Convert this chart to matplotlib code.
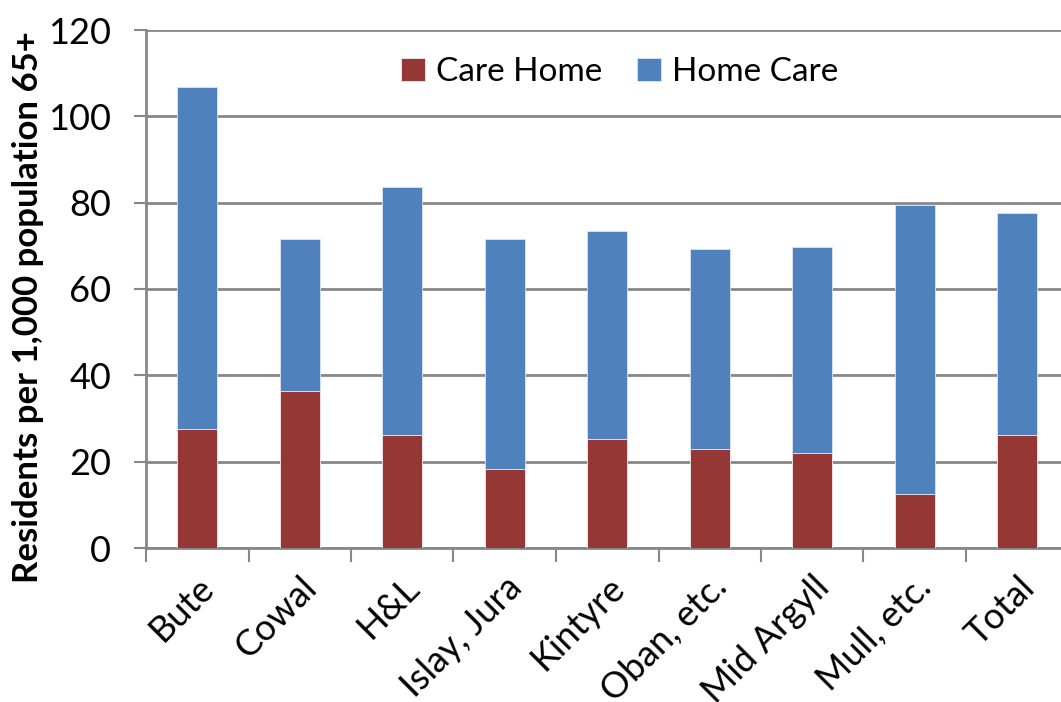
import matplotlib
matplotlib.use("Agg")
import matplotlib.pyplot as plt
import numpy as np

areas = ["Bute", "Cowal", "H&L", "Islay, Jura", "Kintyre", "Oban, etc.",
         "Mid Argyll", "Mull, etc.", "Total"]
care_home = [27.6, 36.4, 26.2, 18.3, 25.2, 22.9, 22.0, 12.5, 26.2]
total_rate = [106.8, 71.6, 83.6, 71.6, 73.4, 69.3, 69.7, 79.5, 77.6]
home_care = [t - c for t, c in zip(total_rate, care_home)]
y_ticks = [0, 20, 40, 60, 80, 100, 120]

plt.rcParams['font.family'] = ['Lato', 'DejaVu Sans']

red = "#953735"
blue = "#4F81BD"
grey = "#878787"

fig = plt.figure(figsize=(10.61, 7.02), dpi=100)
ax = fig.add_axes([146 / 1061, 1 - 548 / 702, (1061 - 146) / 1061, 518 / 702])

x = np.arange(len(areas))
w = 0.39
ax.bar(x, care_home, width=w, color=red, edgecolor="#f0f0f0", linewidth=0.6,
       label="Care Home", zorder=3)
ax.bar(x, home_care, width=w, bottom=care_home, color=blue, edgecolor="#dce6f2",
       linewidth=0.6, label="Home Care", zorder=3)

ax.set_ylim(0, 120)
ax.set_xlim(-0.5, -0.5 + (1061 - 146) / 102.5)
ax.set_yticks(y_ticks)
ax.yaxis.grid(True, color=grey, linewidth=2, zorder=0)
ax.set_axisbelow(True)

# category boundary ticks on the x axis
ax.set_xticks(x)
ax.set_xticklabels(areas, rotation=45, ha="right", rotation_mode="anchor",
                   fontsize=26)
ax.tick_params(axis="x", length=0, pad=16)
ax.set_xticks(np.arange(len(areas)) - 0.5, minor=True)
ax.tick_params(axis="x", which="minor", length=10, width=1.5, color=grey)
ax.tick_params(axis="y", labelsize=26, length=9, width=1.5, color=grey, pad=16)

for s in ["top", "right"]:
    ax.spines[s].set_visible(False)
for s in ["left", "bottom"]:
    ax.spines[s].set_color(grey)
    ax.spines[s].set_linewidth(2)

ax.set_ylabel("Residents per 1,000 population 65+", fontsize=25,
              fontweight="bold")
ax.yaxis.set_label_coords(-102 / 915, 0.465)

ax.legend(loc="upper center", bbox_to_anchor=(0.518, 1.005), ncol=2, frameon=False,
          fontsize=24, handlelength=0.7, handleheight=0.7, columnspacing=1.05,
          handletextpad=0.35)

fig.savefig("out.png", dpi=100)
